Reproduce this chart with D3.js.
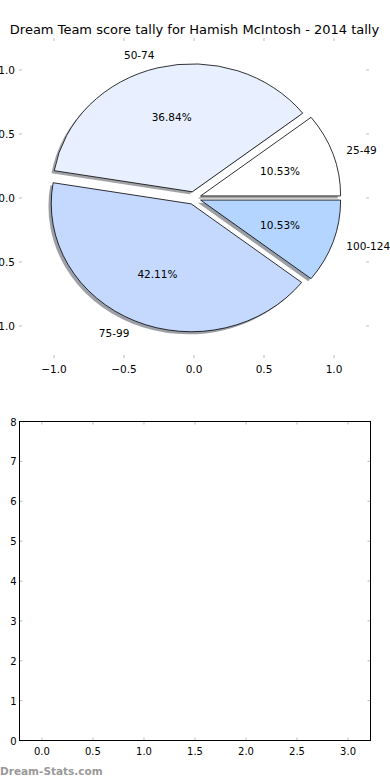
<!DOCTYPE html>
<html>
<head>
<meta charset="utf-8">
<script src="https://cdn.jsdelivr.net/npm/d3@7"></script>
<style>
  body { margin: 0; background: #fff; }
  svg text { font-family: "DejaVu Sans", sans-serif; fill: #000; }
</style>
</head>
<body>
<div id="chart"></div>
<script>
// score buckets and how many rounds fell in each
var categories = ['25-49', '50-74', '75-99', '100-124'];
var counts     = [2, 7, 8, 2];
var sliceColors = ['#ffffff', '#e8f0ff', '#c5d9ff', '#b3d5ff'];
var explode    = [0.05, 0.05, 0.05, 0.05];

var pieTicks   = [-1.0, -0.5, 0.0, 0.5, 1.0];
var barXTicks  = [0.0, 0.5, 1.0, 1.5, 2.0, 2.5, 3.0];
var barYTicks  = [0, 1, 2, 3, 4, 5, 6, 7, 8];

var chartTitle = 'Dream Team score tally for Hamish McIntosh - 2014 tally';

var width = 390, height = 780;
var svg = d3.select('#chart').append('svg')
    .attr('width', width)
    .attr('height', height);

// ---------- top: pie ----------
var px = d3.scaleLinear().domain([-1.25, 1.25]).range([19, 369]);
var py = d3.scaleLinear().domain([-1.25, 1.25]).range([358, 38]);
var sx = px(1) - px(0), sy = py(0) - py(1);

svg.append('text')
    .attr('x', 194.5).attr('y', 34)
    .attr('text-anchor', 'middle')
    .style('font-size', '13px')
    .text(chartTitle);

var tickCol = '#bbbbbb';
var pt = svg.append('g');
pieTicks.forEach(function(t){
    pt.append('line').attr('x1', px(t)).attr('x2', px(t)).attr('y1', py(1.25)).attr('y2', py(1.25) + 3)
        .attr('stroke', tickCol);
    pt.append('line').attr('x1', px(t)).attr('x2', px(t)).attr('y1', py(-1.25)).attr('y2', py(-1.25) - 3)
        .attr('stroke', tickCol);
    pt.append('line').attr('y1', py(t)).attr('y2', py(t)).attr('x1', px(-1.25)).attr('x2', px(-1.25) + 3)
        .attr('stroke', tickCol);
    pt.append('line').attr('y1', py(t)).attr('y2', py(t)).attr('x1', px(1.25)).attr('x2', px(1.25) - 3)
        .attr('stroke', tickCol);
    pt.append('text').attr('x', px(t)).attr('y', py(-1.25) + 15)
        .attr('text-anchor', 'middle').style('font-size', '10.5px')
        .text(d3.format('.1f')(t).replace('-', '\u2212'));
    pt.append('text').attr('x', px(-1.25) - 4).attr('y', py(t) + 4)
        .attr('text-anchor', 'end').style('font-size', '10.5px')
        .text(d3.format('.1f')(t).replace('-', '\u2212'));
});

var total = d3.sum(counts);
var pie = d3.pie().sort(null).startAngle(0).endAngle(2 * Math.PI);
var arcsData = pie(counts);   // angles here used as matplotlib theta (ccw from east)

var arc = d3.arc().innerRadius(0).outerRadius(1);

// drawing in data units: group scaled so 1 unit = radius
var pieG = svg.append('g')
    .attr('transform', 'translate(' + px(0) + ',' + py(0) + ') scale(' + sx + ',' + sy + ')');

function wedgeArc(d){
    return arc({startAngle: Math.PI / 2 - d.startAngle, endAngle: Math.PI / 2 - d.endAngle});
}
function midTheta(d){ return (d.startAngle + d.endAngle) / 2; }

// shadows first (behind all wedges)
pieG.selectAll('path.shadow').data(arcsData).enter().append('path')
    .attr('class', 'shadow')
    .attr('transform', function(d, i){
        var m = midTheta(d);
        return 'translate(' + (explode[i] * Math.cos(m) - 0.02) + ',' + (-explode[i] * Math.sin(m) + 0.02) + ')';
    })
    .attr('d', wedgeArc)
    .attr('fill', function(d, i){
        var c = d3.rgb(sliceColors[i]);
        return d3.rgb(c.r * 0.3, c.g * 0.3, c.b * 0.3);
    })
    .attr('fill-opacity', 0.5);

pieG.selectAll('path.wedge').data(arcsData).enter().append('path')
    .attr('class', 'wedge')
    .attr('transform', function(d, i){
        var m = midTheta(d);
        return 'translate(' + (explode[i] * Math.cos(m)) + ',' + (-explode[i] * Math.sin(m)) + ')';
    })
    .attr('d', wedgeArc)
    .attr('fill', function(d, i){ return sliceColors[i]; })
    .attr('stroke', '#000')
    .attr('stroke-width', 0.8)
    .attr('vector-effect', 'non-scaling-stroke');

arcsData.forEach(function(d, i){
    var m = midTheta(d);
    var cx = explode[i] * Math.cos(m), cy = explode[i] * Math.sin(m);
    var lx = cx + 1.1 * Math.cos(m), ly = cy + 1.1 * Math.sin(m);
    svg.append('text')
        .attr('x', px(lx)).attr('y', py(ly) + 4)
        .attr('text-anchor', lx > 0 ? 'start' : 'end')
        .style('font-size', '10.5px')
        .text(categories[i]);
    var tx = cx + 0.6 * Math.cos(m), ty = cy + 0.6 * Math.sin(m);
    svg.append('text')
        .attr('x', px(tx)).attr('y', py(ty) + 4)
        .attr('text-anchor', 'middle')
        .style('font-size', '10.5px')
        .text(d3.format('.2f')(counts[i] / total * 100) + '%');
});

// ---------- bottom: empty axes ----------
var bx = d3.scaleLinear().domain([-0.22, 3.22]).range([19.5, 370.5]);
var by = d3.scaleLinear().domain([0, 8]).range([740.5, 421.5]);

var bg = svg.append('g');
barXTicks.forEach(function(t){
    bg.append('line').attr('x1', bx(t)).attr('x2', bx(t)).attr('y1', by(8)).attr('y2', by(8) + 3).attr('stroke', tickCol);
    bg.append('line').attr('x1', bx(t)).attr('x2', bx(t)).attr('y1', by(0)).attr('y2', by(0) - 3).attr('stroke', tickCol);
    bg.append('text').attr('x', bx(t)).attr('y', by(0) + 14)
        .attr('text-anchor', 'middle').style('font-size', '10px')
        .text(d3.format('.1f')(t));
});
barYTicks.forEach(function(t){
    bg.append('line').attr('y1', by(t)).attr('y2', by(t)).attr('x1', bx(-0.22)).attr('x2', bx(-0.22) + 3).attr('stroke', tickCol);
    bg.append('line').attr('y1', by(t)).attr('y2', by(t)).attr('x1', bx(3.22)).attr('x2', bx(3.22) - 3).attr('stroke', tickCol);
    bg.append('text').attr('x', bx(-0.22) - 3).attr('y', by(t) + 4)
        .attr('text-anchor', 'end').style('font-size', '10px')
        .text(t);
});
bg.append('rect')
    .attr('x', bx(-0.22)).attr('y', by(8))
    .attr('width', bx(3.22) - bx(-0.22)).attr('height', by(0) - by(8))
    .attr('fill', 'none').attr('stroke', '#000').attr('stroke-width', 1);

svg.append('text')
    .attr('x', 0).attr('y', 775)
    .style('font-size', '10.5px')
    .style('font-weight', 'bold')
    .style('fill', '#999')
    .text('Dream-Stats.com');
</script>
</body>
</html>
